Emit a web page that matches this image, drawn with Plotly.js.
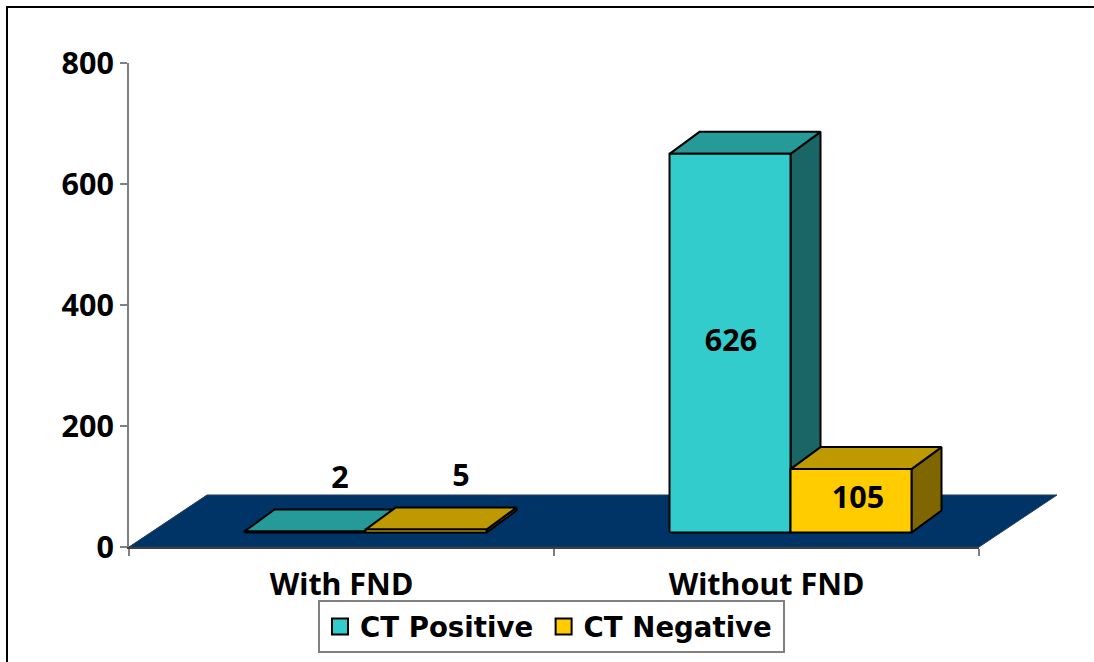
<!DOCTYPE html>
<html>
<head>
<meta charset="utf-8">
<script src="https://cdn.plot.ly/plotly-3.0.1.min.js"></script>
<style>
  html, body { margin: 0; padding: 0; background: #fff; overflow: hidden; }
  #chart { position: absolute; left: 0; top: 0; width: 1094px; height: 662px; }
  #frame { position: absolute; left: 6px; top: 6px; width: 1100px; height: 670px;
           border: 2px solid #000; box-sizing: border-box; pointer-events: none; }
</style>
</head>
<body>
<div id="chart"></div>
<div id="frame"></div>
<script>
// Observations per group
const categories = ["With FND", "Without FND"];
const ctPositive = [2, 626];
const ctNegative = [5, 105];

// Series names and colours: front, top and side faces
const seriesNames = ["CT Positive", "CT Negative"];
const frontColors = ["#33CCCC", "#FFCC00"];
const topColors = ["#269999", "#BF9900"];
const sideColors = ["#1A6666", "#806600"];
const floorColor = "#003366";

// Oblique projection, in axis units (x: one category wide, y: value units)
const PX_X = 1 / 425, PX_Y = 800 / 484;
const floorDepth = { x: 78 * PX_X, y: 52 * PX_Y };
const boxDepth = { x: 30 * PX_X, y: 22 * PX_Y };
const boxLift = 14.4 * PX_Y;
const boxWidth = 121 * PX_X;
const boxCenter = 0.0565;

// Label nudges in pixels from the centre of each box's front face
const labelNudgeX = [[35, 35], [1, 7]];
const labelNudgeY = [[52, 53], [0, 0]];

const FONT = '"Noto Sans", "Open Sans", sans-serif';
const LEGEND_FONT = '"DejaVu Sans", sans-serif';
const TICK_SIZE = 30.5, LEGEND_SIZE = 27.6;
const traces = [];

function poly(xs, ys, color) {
  traces.push({
    type: "scatter", mode: "lines", x: [...xs, xs[0]], y: [...ys, ys[0]],
    fill: "toself", fillcolor: color,
    line: { color: "#000", width: 2, simplify: false },
    cliponaxis: false, showlegend: false, hoverinfo: "skip"
  });
}

// Each box is built from its value: side, then top, then front
const labelX = [], labelY = [], labelText = [];
[ctPositive, ctNegative].forEach((values, s) => {
  values.forEach((v, g) => {
    const x0 = g + boxCenter + (s - 1) * boxWidth, x1 = x0 + boxWidth;
    const y0 = boxLift, y1 = boxLift + v;
    const dx = boxDepth.x, dy = boxDepth.y;
    poly([x1, x1 + dx, x1 + dx, x1], [y0, y0 + dy, y1 + dy, y1], sideColors[s]);
    poly([x0, x1, x1 + dx, x0 + dx], [y1, y1, y1 + dy, y1 + dy], topColors[s]);
    poly([x0, x1, x1, x0], [y0, y0, y1, y1], frontColors[s]);
    labelX.push((x0 + x1) / 2 + labelNudgeX[g][s] * PX_X);
    labelY.push((y0 + y1) / 2 + labelNudgeY[g][s] * PX_Y);
    labelText.push(String(v));
  });
});

// Value labels
traces.push({
  type: "scatter", mode: "text", x: labelX, y: labelY, text: labelText,
  textposition: "middle center", cliponaxis: false,
  textfont: { family: FONT, size: TICK_SIZE, color: "#000", weight: 700 },
  showlegend: false, hoverinfo: "skip"
});

// Legend keys; the thin space widens each entry slightly
seriesNames.forEach((name, s) => {
  traces.push({
    type: "scatter", mode: "markers", name: name + "\u2009", x: [null], y: [null],
    marker: { symbol: "square", size: 16, color: frontColors[s], line: { color: "#000", width: 2 } }
  });
});

// Floor plane: a parallelogram spanning the x axis, extended back by the floor depth
const toPaperX = x => (x + 0.5) / 2;
const toPaperY = y => y / 800;
const floorPath = "M" + [
  [-0.5, 0], [1.5, 0], [1.5 + floorDepth.x, floorDepth.y], [-0.5 + floorDepth.x, floorDepth.y]
].map(p => toPaperX(p[0]) + "," + toPaperY(p[1])).join("L") + "Z";

const layout = {
  width: 1094, height: 662,
  margin: { l: 129, r: 115, t: 63, b: 115, pad: 0 },
  paper_bgcolor: "#fff", plot_bgcolor: "rgba(0,0,0,0)",
  showlegend: true,
  font: { family: FONT, size: TICK_SIZE, color: "#000", weight: 700 },
  shapes: [{
    type: "path", xref: "paper", yref: "paper", layer: "below", path: floorPath,
    fillcolor: floorColor, line: { color: "#1f3f5f", width: 1 }
  }],
  xaxis: {
    range: [-0.5, 1.5], fixedrange: true, showgrid: false, zeroline: false,
    showline: true, linecolor: "#404040", linewidth: 2,
    tickmode: "array", tickvals: [0, 1], ticktext: categories,
    ticks: "", ticklabelstandoff: 9,
    minor: { tickmode: "array", tickvals: [-0.5, 0.5, 1.5], ticks: "outside", ticklen: 7, tickwidth: 2, tickcolor: "#808080", showgrid: false },
    tickfont: { family: FONT, size: TICK_SIZE, color: "#000", weight: 700 }
  },
  yaxis: {
    range: [0, 800], fixedrange: true, showgrid: false, zeroline: false,
    showline: true, linecolor: "#808080", linewidth: 2,
    tickmode: "array", tickvals: [0, 200, 400, 600, 800],
    ticks: "outside", ticklen: 7, tickwidth: 2, tickcolor: "#808080",
    tickfont: { family: FONT, size: TICK_SIZE, color: "#000", weight: 700 }
  },
  legend: {
    orientation: "h", x: 318 / 1094, y: 1 - 600 / 662,
    xref: "container", yref: "container", xanchor: "left", yanchor: "top",
    bgcolor: "#fff", bordercolor: "#808080", borderwidth: 2,
    font: { family: LEGEND_FONT, size: LEGEND_SIZE, color: "#000", weight: 700 },
    itemclick: false, itemdoubleclick: false
  }
};

Plotly.newPlot("chart", traces, layout, { staticPlot: true, displayModeBar: false });
</script>
</body>
</html>
